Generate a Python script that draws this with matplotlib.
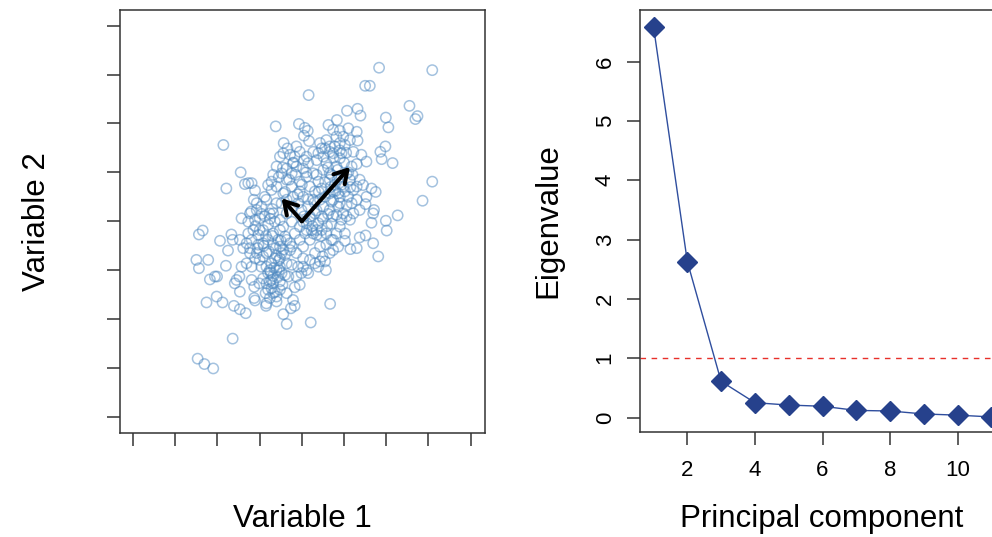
import matplotlib.pyplot as plt

plt.rcParams['font.family'] = ['Liberation Sans', 'DejaVu Sans']

# left panel: two correlated variables
var1 = [
    1.83, 3.09, 1.50, 1.61, 0.16, 2.55, 2.69, 2.74, 1.07, 1.32,
    1.39, 1.99, 2.05, -0.62, -0.07, 0.07, 0.14, 0.05, 0.17, -1.86,
    0.63, 0.83, 0.90, 1.10, 1.30, 1.32, -0.43, 1.98, 1.86, 1.89,
    2.15, 3.09, 2.86, 2.27, 1.99, 2.01, 1.81, 1.69, 1.65, 1.69,
    1.71, 1.51, 1.53, 1.75, 1.65, 1.45, 1.53, 1.41, 1.30, 1.22,
    1.02, 0.98, 0.82, 0.74, 0.66, 0.47, 0.39, 0.74, 0.94,
    -1.45, -1.79, -1.35, -1.27, -1.19, -1.11, -1.14, -1.07, -1.43, -2.44,
    -2.35, -1.94, -1.67, -1.64, -1.75, -1.47, -1.39, -2.50, -2.44, -2.22,
    -1.80, -2.18, -2.06, -2.01, -1.55, -1.48, -1.59, -1.47, -2.02, -2.26,
    -1.88, -1.61, -1.47, -1.33, -1.13, -1.11, -0.85, -0.60, -0.44, -0.36,
    -0.26, -0.17, 0.21, 0.67, -1.64, -2.47, -2.31, -2.10,
    1.15, 1.30, 1.37, 1.51, 1.02, 0.86, 0.74, 0.66, 0.49, 0.39,
    0.57, 0.43, 0.15, 0.03, -0.05, -0.17, -0.24, -0.48, -0.68, -0.76,
    -0.80, -0.86, -0.68, -0.52, -0.36, -0.52, -0.84, -1.00, -1.07, -1.23,
    -1.31, -1.19, -1.43, -0.92, -1.01, -1.13, -1.19,
    -0.52, -0.44, -0.34, -0.28, -0.21, -0.13, -0.24, -0.36, -0.48, -0.60,
    -0.68, -0.80, -0.72, -0.60, -0.44, -0.24, -0.05, 0.11, 0.27, 0.39,
    0.51, 0.58, 0.66, 0.82, 0.90, 1.06, 1.14, 0.98, 0.86, 0.74,
    0.90, 1.10, 1.22, 1.30, 1.37, 1.22, 1.06, 0.94, 0.82, 0.66,
    0.51, 0.43, 0.31, 0.19, 0.03, -0.09, -0.21, -0.36, -0.52, -0.68,
    -0.84, -0.96, -1.00, -1.11, -1.15, -1.03, -0.92, -0.80, -0.68, -0.52,
    -0.40, -0.28, -0.17, -0.05, 0.11, 0.23, 0.35, 0.47, 0.58, 0.70,
    0.82, 0.19, 0.03, -0.13, -0.28, -0.40, -0.52, -0.68, -0.80, -0.92,
    -1.03, -1.19, -1.27, -1.31, -0.84, -0.72, -0.60, -0.80, -0.68, -0.52,
    -0.32, -0.13, 0.03, 0.19, 0.31, 0.43, 0.58, 0.74, 0.47, 0.31,
    0.15, -0.01, 0.27, 0.66, 0.78, 0.94, 0.03, 0.15, 0.35, 0.51,
    0.66, 0.78, 0.43, 0.58, -0.05, -0.17, -0.13, 0.90, 1.14, 1.18,
    1.37, 1.06, 0.74, -0.36, -0.60, -0.76, -0.88, -0.44, -0.24, -0.05,
    0.39, 0.90, 1.02, 1.14, -0.48, -0.36, 0.11, -0.21, -0.84,
    -0.76, -0.84, -0.72, -0.60, -0.76, -0.64, -0.56, -0.36, -0.24, 0.11,
    0.27, 0.35, 0.19, 0.03, 0.86, 0.98, 0.74, 0.90, 1.02, 0.66,
    0.47, 0.35, -0.05, -0.21, -0.48, -0.64, -1.00, -1.23, -1.11, -0.92,
    -0.96, -0.52, -0.09, -0.01, 0.31, 0.55, 1.18, 1.30, 0.55, 0.27,
    0.11, -0.36, -0.72, -0.88, -1.07, -1.23, -1.27,
    -0.70, -0.62, -0.55, -0.66, -0.58, -0.46, -0.72, -0.64, -0.50, -0.44,
    -0.78, -0.60, -0.54, -0.40, -0.74,
    0.05, 0.20, 0.35, 0.50, 0.62, 0.70, 0.55, 0.40, 0.15, 0.25,
    0.45, 0.60, 0.08, 0.30, 0.70,
    0.55, 0.70, 0.85, 1.00, 1.10, 0.95, 0.80, 0.62, 0.75, 1.05,
    0.90, 1.20, 0.68, 1.15, 0.85,
    -0.40, -0.30, -0.15, 0.00, 0.10, -0.20, -0.45, -0.55, 0.05, -0.10,
    -1.10, -0.95, -0.85, -0.75, -1.05, -0.90, -1.20, -0.70,
]
var2 = [
    3.14, 3.09, 2.77, 2.77, 2.58, 2.36, 2.09, 2.15, 2.26, 2.30,
    2.16, 2.12, 1.92, 1.94, 1.99, 1.91, 1.85, 1.75, 1.64, 1.56,
    1.97, 2.07, 1.85, 1.90, 1.83, 1.65, 1.60, 1.53, 1.42, 1.27,
    1.19, 0.81, 0.42, 0.12, 0.01, -0.19, -0.72, -0.45, -0.03, 0.16,
    0.23, 0.35, 0.50, 0.60, 0.67, 0.74, 1.22, 1.36, 1.17, 1.42,
    1.56, 1.73, 1.73, 1.87, 1.53, 1.49, 1.39, 1.39, 1.39,
    1.00, 0.67, 0.76, 0.78, 0.78, 0.63, 0.44, 0.23, 0.06, -0.27,
    -0.19, -0.40, -0.27, -0.38, -0.60, -0.38, -0.55, -0.79, -0.96, -0.79,
    -0.91, -1.19, -1.13, -1.13, -1.20, -1.13, -1.27, -1.44, -1.54, -1.66,
    -1.66, -1.73, -1.80, -1.88, -1.57, -1.62, -1.73, -1.64, -1.90, -2.10,
    -1.78, -1.73, -2.07, -1.69, -2.40, -2.81, -2.92, -3.01,
    -0.57, -0.55, -0.33, -0.29, -0.40, -0.52, -0.59, -0.65, -0.72, -0.93,
    -1.00, -0.82, -1.06, -0.93, -1.30, -1.35, -0.89, -1.06, -1.12, -1.23,
    -1.40, -1.47, -1.47, -1.40, -1.47, -0.76, -0.93, -0.79, -0.65, -0.65,
    -0.86, -0.93, -0.93, -1.17, -1.27, -1.34, -1.20,
    1.32, 1.39, 1.49, 1.36, 1.19, 1.12, 0.98, 0.85, 0.98, 1.12,
    0.95, 0.74, 0.64, 0.71, 0.57, 0.71, 0.81, 0.91, 0.98, 0.81,
    1.05, 1.19, 0.98, 1.12, 1.29, 0.98, 0.85, 0.71, 0.57, 0.44,
    0.37, 0.50, 0.64, 0.44, 0.23, 0.16, 0.10, 0.03, 0.13, 0.23,
    0.30, 0.44, 0.61, 0.71, 0.50, 0.37, 0.30, 0.16, 0.03, 0.16,
    0.44, 0.30, 0.06, 0.03, -0.18, -0.28, -0.18, -0.07, -0.25, -0.18,
    -0.31, -0.45, -0.25, -0.11, -0.04, -0.18, -0.28, -0.18, -0.25, -0.38,
    -0.25, -0.38, -0.52, -0.65, -0.59, -0.69, -0.52, -0.48, -0.38, -0.45,
    -0.48, -0.38, -0.25, -0.45, -0.65, -0.86, -1.00, -1.06, -1.27, -1.23,
    -1.13, -1.13, -0.76, -0.79, -0.65, -0.52, -0.48, -0.38, 0.10, 0.16,
    0.30, 0.23, 0.44, 0.57, 0.74, 0.91, 1.08, 1.19, 1.25, 1.32,
    1.42, 1.53, 1.60, 1.66, 1.42, 1.32, 1.53, 1.60, 1.66, 1.12,
    0.85, 0.33, 0.10, 0.44, 0.37, 0.16, 0.10, -0.11, -0.01, -0.38,
    -0.04, -0.11, -0.25, 0.03, -0.65, -0.86, -1.00, -1.61, -1.68,
    -1.00, -1.27, -1.37, -1.54, -1.57, -0.76, -0.38, -0.38, -0.52, -0.18,
    -0.25, -0.18, 0.10, -0.01, 0.30, 0.16, 0.61, 0.50, 0.61, 0.85,
    0.67, 0.95, 0.61, 0.50, 0.37, -0.01, -0.18, -0.55, -0.76, -0.72,
    -0.93, -0.93, -0.93, -1.06, -0.86, -0.82, 0.37, 0.71, 1.49, 1.42,
    1.32, 1.08, 0.81, 0.50, 0.37, 0.16, -0.01,
    -0.30, -0.55, -0.80, -0.95, -1.15, -1.30, -1.20, -1.45, -0.40, -0.58,
    -0.62, -0.70, -1.00, -1.10, -1.05,
    0.10, 0.05, 0.22, 0.05, 0.15, 0.40, 0.50, 0.60, 0.45, -0.10,
    -0.30, -0.10, -0.25, 0.38, -0.05,
    0.80, 0.95, 1.05, 1.20, 1.00, 0.75, 0.62, 1.10, 1.30, 1.40,
    1.45, 0.95, 0.70, 0.70, 0.85,
    0.60, 0.85, 0.95, 0.75, 1.00, 1.20, 1.10, 0.90, 1.25, 0.55,
    -0.10, 0.15, -0.30, 0.05, -0.55, -0.50, 0.20, 0.25,
]
# principal axes drawn from the centre
arrow_tips = [(1.14, 1.11), (-0.48, 0.47)]

# right panel: scree plot
components = [1, 2, 3, 4, 5, 6, 7, 8, 9, 10, 11]
eigenvalues = [6.59, 2.63, 0.61, 0.25, 0.21, 0.19, 0.12, 0.11, 0.06, 0.04, 0.01]

fig = plt.figure(figsize=(9.92, 5.37), dpi=100)
spine_col = '#333333'

# ---- scatter with principal directions ----
ax1 = fig.add_axes([120 / 992, 1 - 433 / 537, 365 / 992, 423 / 537])
ax1.scatter(var1, var2, s=55, facecolors='none', edgecolors='#4a86c0',
            linewidths=1.1, alpha=0.5)
for tx, ty in arrow_tips:
    ax1.annotate('', xy=(tx, ty), xytext=(0, 0),
                 arrowprops=dict(arrowstyle='->, head_length=0.5, head_width=0.3',
                                 lw=2.9, color='black', mutation_scale=18,
                                 shrinkA=0, shrinkB=0))
ax1.set_xlim(-4.31, 4.34)
ax1.set_ylim(-4.33, 4.32)
ax1.set_xticks(range(-4, 5))
ax1.set_yticks(range(-4, 5))
ax1.set_xticklabels([])
ax1.set_yticklabels([])
ax1.tick_params(direction='out', length=9.5, width=1.1, color=spine_col)
for sp in ax1.spines.values():
    sp.set_linewidth(1.1)
    sp.set_color(spine_col)
ax1.set_xlabel('Variable 1', fontsize=22.5, va='center')
ax1.xaxis.set_label_coords(0.5, -0.203)
ax1.set_ylabel('Variable 2', fontsize=22.5, va='center')
ax1.yaxis.set_label_coords(-0.228, 0.499)

# ---- scree plot ----
ax2 = fig.add_axes([640 / 992, 1 - 432 / 537, 365 / 992, 422 / 537])
ax2.axhline(1, color='#e8302a', lw=1.0, linestyle=(0, (4, 4)))
ax2.plot(components, eigenvalues, color='#2f4e9e', lw=1.0, marker='D',
         markersize=10, markerfacecolor='#26418c', markeredgecolor='#26418c')
ax2.set_xlim(0.6, 11.4)
ax2.set_ylim(-0.244, 6.87)
ax2.set_xticks([2, 4, 6, 8, 10])
ax2.set_yticks(range(0, 7))
ax2.tick_params(direction='out', length=9.5, width=1.1, color=spine_col,
                labelsize=16)
ax2.tick_params(axis='x', pad=11)
ax2.tick_params(axis='y', pad=8)
for lab in ax2.get_yticklabels():
    lab.set_rotation(90)
    lab.set_va('center')
for sp in ax2.spines.values():
    sp.set_linewidth(1.1)
    sp.set_color(spine_col)
ax2.set_xlabel('Principal component', fontsize=22.5, va='center')
ax2.xaxis.set_label_coords(0.499, -0.206)
ax2.set_ylabel('Eigenvalue', fontsize=22.5, va='center')
ax2.yaxis.set_label_coords(-0.252, 0.502)

fig.savefig('out.png', dpi=100)
